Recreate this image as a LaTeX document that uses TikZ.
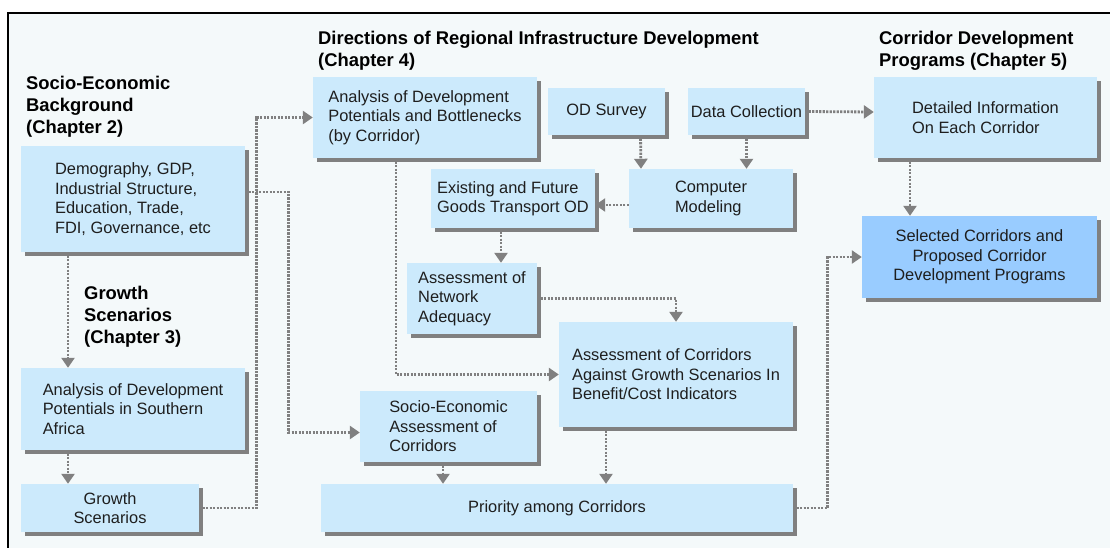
\documentclass[tikz,border=0pt]{standalone}
\usepackage{fontspec}
\setmainfont{Liberation Sans}
\usetikzlibrary{arrows.meta,shadows}

\definecolor{boxblue}{RGB}{204,234,252}
\definecolor{keyblue}{RGB}{153,204,255}
\definecolor{shadowgray}{RGB}{128,128,128}
\definecolor{conncol}{RGB}{128,128,128}
\definecolor{panelbg}{RGB}{244,249,250}
\definecolor{textcol}{RGB}{30,30,30}

\newcommand{\boxtextfont}{\fontsize{16.4}{19.4}\selectfont}
\newcommand{\headfont}{\fontsize{18.4}{22}\selectfont\bfseries}

\begin{document}
\begin{tikzpicture}[x=1pt,y=-1pt,
  box/.style={rectangle, fill=boxblue, inner sep=0pt, align=left,
    text=textcol, font=\boxtextfont,
    drop shadow={shadow xshift=3.5pt, shadow yshift=-3.5pt,
      fill=shadowgray, opacity=1}},
  heading/.style={anchor=west, align=left, inner sep=0pt, font=\headfont},
  conn/.style={draw=conncol, line width=2.8pt, dash pattern=on 2.2pt off 1.3pt,
    -{Triangle[width=13pt,length=10pt,fill=conncol]}}
]
\useasboundingbox (0,0) rectangle (1110,547);
\clip (0,0) rectangle (1110,547);

% panel with black frame
\fill[white] (0,0) rectangle (1110,547);
\filldraw[fill=panelbg, draw=black, line width=2pt] (8.3,12.7) rectangle (1130,570);

% headings
\node[heading] (h2) at (26,107) {Socio-Economic\\Background\\(Chapter 2)};
\node[heading] (h3) at (84,317) {Growth\\Scenarios\\(Chapter 3)};
\node[heading] (h4) at (318,50.5) {Directions of Regional Infrastructure Development\\(Chapter 4)};
\node[heading] (h5) at (879,50.5) {Corridor Development\\Programs (Chapter 5)};

% boxes
\node[box, minimum width=224pt, minimum height=106pt] (demo) at (133,199)
  {Demography, GDP,\\Industrial Structure,\\Education, Trade,\\FDI, Governance, etc};
\node[box, minimum width=224pt, minimum height=82pt] (southern) at (133,409)
  {Analysis of Development\\Potentials in Southern\\Africa};
\node[box, align=center, minimum width=178pt, minimum height=48pt] (growth) at (110,508)
  {Growth\\Scenarios};
\node[box, minimum width=224pt, minimum height=81pt] (analysis) at (425,117.5)
  {Analysis of Development\\Potentials and Bottlenecks\\(by Corridor)};
\node[box, minimum width=117pt, minimum height=47pt] (odsurvey) at (606.5,111.5)
  {OD Survey};
\node[box, minimum width=117pt, minimum height=47pt] (datacoll) at (746.5,111.5)
  {Data Collection};
\node[box, minimum width=223pt, minimum height=81pt] (detailed) at (985.5,117.5)
  {Detailed Information\\On Each Corridor};
\node[box, fill=keyblue, align=center, minimum width=235pt, minimum height=82pt] (selected) at (979.5,257)
  {Selected Corridors and\\Proposed Corridor\\Development Programs};
\node[box, minimum width=164pt, minimum height=59pt] (existing) at (513,198.5)
  {Existing and Future\\Goods Transport OD};
\node[box, minimum width=164pt, minimum height=59pt] (computer) at (711,198.5)
  {Computer\\Modeling};
\node[box, minimum width=130pt, minimum height=71pt] (network) at (472,298.5)
  {Assessment of\\Network\\Adequacy};
\node[box, minimum width=234pt, minimum height=105pt] (assesscorr) at (676,374.5)
  {Assessment of Corridors\\Against Growth Scenarios In\\Benefit/Cost Indicators};
\node[box, minimum width=177pt, minimum height=71pt] (socioassess) at (448.5,426.5)
  {Socio-Economic\\Assessment of\\Corridors};
\node[box, minimum width=472pt, minimum height=48pt] (priority) at (557,508)
  {Priority among Corridors};

% connectors
\draw[conn] ([xshift=-65pt]demo.south) -- ([xshift=-65pt]southern.north);
\draw[conn] ([xshift=-65pt]southern.south) -- ([xshift=-42pt]growth.north);
\draw[conn] (growth.east) -| ([xshift=-56pt]analysis.west) -- (analysis.west);
\draw[conn] ([yshift=7pt]demo.east) -| ([xshift=-71pt,yshift=-6pt]socioassess.west)
  -- ([yshift=-6pt]socioassess.west);
\draw[conn] ([xshift=-29pt]analysis.south) |- (assesscorr.west);
\draw[conn] ([xshift=34pt]odsurvey.south) -- ([xshift=-70pt]computer.north);
\draw[conn] (datacoll.south) -- ([xshift=35.5pt]computer.north);
\draw[conn] ([yshift=-6.5pt]computer.west) -- ([yshift=-6.5pt]existing.east);
\draw[conn] ([xshift=-12pt]existing.south) -- ([xshift=29pt]network.north);
\draw[conn] (network.east) -| (assesscorr.north);
\draw[conn] (datacoll.east) -- ([yshift=5.5pt]detailed.west);
\draw[conn] ([xshift=-75.5pt]detailed.south) -- ([xshift=-69.5pt]selected.north);
\draw[conn] ([xshift=-70pt]assesscorr.south) -- ([xshift=49pt]priority.north);
\draw[conn] ([xshift=-5.5pt]socioassess.south) -- ([xshift=-114pt]priority.north);
\draw[conn] (priority.east) -| ([xshift=-34pt]selected.west) -- (selected.west);
\end{tikzpicture}
\end{document}
